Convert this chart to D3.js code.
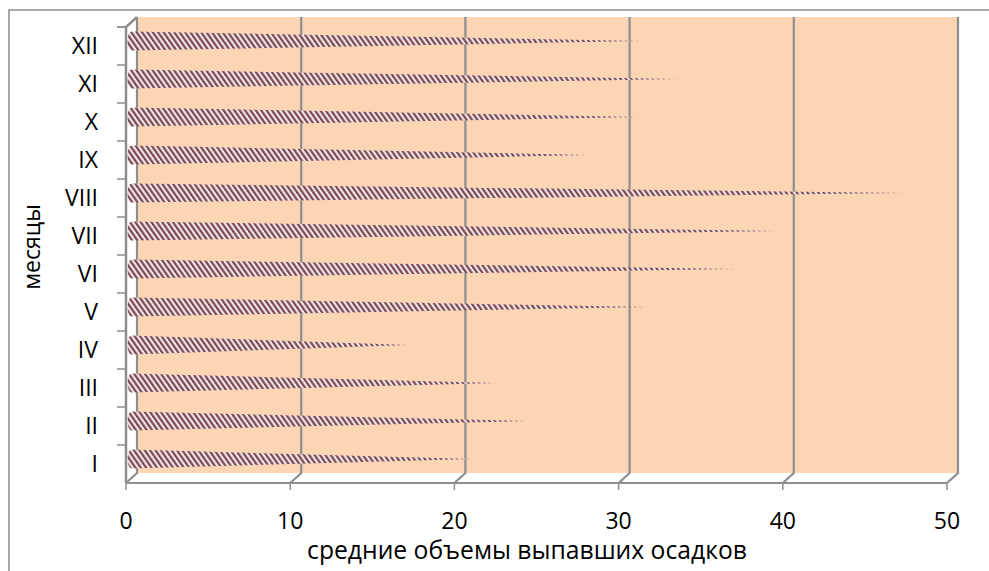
<!DOCTYPE html>
<html>
<head>
<meta charset="utf-8">
<script src="https://cdn.jsdelivr.net/npm/d3@7"></script>
<style>
  body { margin: 0; background: #fff; }
  svg { display: block; }
  text { font-family: "Open Sans", "Noto Sans", sans-serif; fill: #000; }
</style>
</head>
<body>
<svg id="chart" width="989" height="571"></svg>
<script>
// Average monthly precipitation
const months = ["I", "II", "III", "IV", "V", "VI", "VII", "VIII", "IX", "X", "XI", "XII"];
const precipitation = [20.8, 24.1, 22.3, 16.9, 31.5, 36.9, 39.4, 47.1, 27.9, 30.9, 33.3, 31.1];
const xTicks = [0, 10, 20, 30, 40, 50];
const yTitle = "месяцы";
const xTitle = "средние объемы выпавших осадков";

const svg = d3.select("#chart");

// front plane of the 3D box and the depth offset to the back wall
const front = { left: 126, right: 947, top: 27, bottom: 483 };
const depth = { dx: 11, dy: -10 };

const x = d3.scaleLinear().domain([0, 50]).range([front.left, front.right]);
const y = d3.scaleBand().domain(months).range([front.bottom, front.top]);

const gridColor = "#8e8e8e";
const fontSize = 23;

// hatch fill for the cones
const defs = svg.append("defs");
const pat = defs.append("pattern")
  .attr("id", "hatch")
  .attr("patternUnits", "userSpaceOnUse")
  .attr("width", 4.4).attr("height", 8)
  .attr("patternTransform", "rotate(-35)");
pat.append("rect").attr("width", 4.4).attr("height", 8).attr("fill", "#f2e6e6");
pat.append("rect").attr("width", 2.2).attr("height", 8).attr("fill", "#7a4850");

// chart frame
svg.append("path")
  .attr("d", "M9,571V10H989")
  .attr("fill", "none").attr("stroke", "#8c8c8c").attr("stroke-width", 1.5);

// back wall
svg.append("rect")
  .attr("x", x(0) + depth.dx).attr("y", front.top + depth.dy)
  .attr("width", x(50) - x(0)).attr("height", front.bottom - front.top)
  .attr("fill", "#fcd5b4");

// vertical gridlines on the wall, folding onto the floor
svg.append("g").selectAll("path").data(xTicks).join("path")
  .attr("d", t => `M${x(t) + depth.dx},${front.top + depth.dy}V${front.bottom + depth.dy}L${x(t)},${front.bottom}`)
  .attr("fill", "none").attr("stroke", gridColor).attr("stroke-width", 2.2);

// floor front edge and x ticks
svg.append("path")
  .attr("d", `M${x(0)},${front.bottom}H${x(50)}`)
  .attr("stroke", gridColor).attr("stroke-width", 2.2);
svg.append("g").selectAll("line").data(xTicks).join("line")
  .attr("x1", t => x(t)).attr("x2", t => x(t))
  .attr("y1", front.bottom).attr("y2", front.bottom + 7)
  .attr("stroke", gridColor).attr("stroke-width", 1.5);

// category axis with its top corner
svg.append("path")
  .attr("d", `M${x(0)},${front.bottom}V${front.top}L${x(0) + depth.dx},${front.top + depth.dy}`)
  .attr("fill", "none").attr("stroke", gridColor).attr("stroke-width", 2.5);
const edges = months.map(m => y(m)).concat([front.top]);
svg.append("g").selectAll("line").data(edges).join("line")
  .attr("x1", x(0) - 9).attr("x2", x(0))
  .attr("y1", d => d).attr("y2", d => d)
  .attr("stroke", gridColor).attr("stroke-width", 1.5);

// cones, placed halfway into the depth
const half = y.bandwidth() * 0.25;
svg.append("g").selectAll("path").data(months).join("path")
  .attr("d", (m, i) => {
    const cy = y(m) + y.bandwidth() / 2 + depth.dy / 2;
    const x0 = x(0) + depth.dx / 2;
    const x1 = x(precipitation[i]) + depth.dx / 2;
    return `M${x0},${cy - half}L${x1},${cy}L${x0},${cy + half}A4,${half} 0 0 1 ${x0},${cy - half}Z`;
  })
  .attr("fill", "url(#hatch)");

// category labels
svg.append("g").selectAll("text").data(months).join("text")
  .attr("x", 98)
  .attr("y", m => y(m) + y.bandwidth() / 2)
  .attr("dy", "0.36em")
  .attr("text-anchor", "end")
  .attr("font-size", fontSize)
  .text(m => m);

// value labels
svg.append("g").selectAll("text").data(xTicks).join("text")
  .attr("x", t => x(t))
  .attr("y", 529)
  .attr("text-anchor", "middle")
  .attr("font-size", fontSize)
  .text(t => t);

// axis titles; the horizontal one is sized to span 440px
const title = svg.append("text")
  .attr("x", 527).attr("y", 559)
  .attr("text-anchor", "middle")
  .attr("font-size", 20)
  .text(xTitle);
const w = title.node().getComputedTextLength();
title.attr("font-size", 20 * 440 / w);

svg.append("text")
  .attr("transform", "translate(40,247) rotate(-90)")
  .attr("text-anchor", "middle")
  .attr("font-size", fontSize)
  .text(yTitle);
</script>
</body>
</html>
